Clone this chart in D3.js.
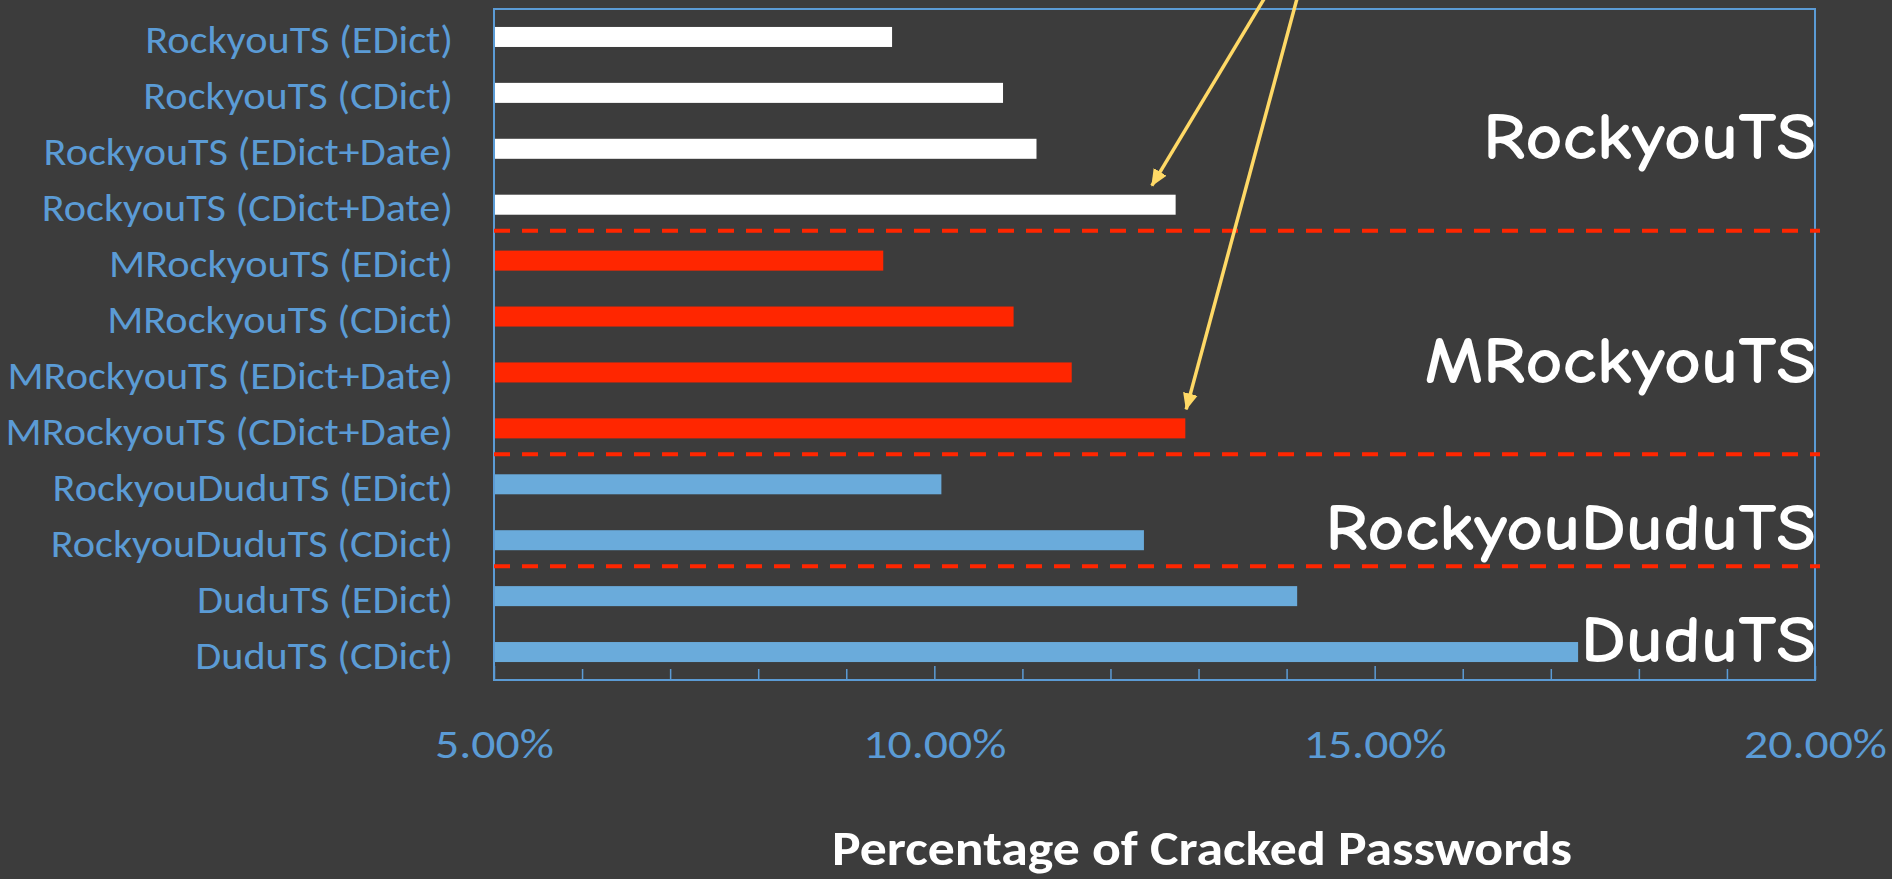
<!DOCTYPE html>
<html>
<head>
<meta charset="utf-8">
<script src="https://cdnjs.cloudflare.com/ajax/libs/d3/7.8.5/d3.min.js"></script>
<style>
  html, body { margin: 0; padding: 0; background: #3c3c3c; }
  svg { display: block; }
  .cat { font-family: Calibri, Carlito, Lato, sans-serif; font-size: 38.5px; fill: #5b9bd5; }
  .tick-lbl { font-family: Calibri, Carlito, Lato, sans-serif; font-size: 41.5px; fill: #5b9bd5; }
  .title { font-family: Calibri, Carlito, Lato, sans-serif; font-weight: 700; font-size: 48px; fill: #ffffff; }
  .grp { font-family: "Comic Sans MS", "Comic Neue", "DejaVu Sans", sans-serif; font-weight: 700; font-size: 67px; fill: #ffffff; }
</style>
</head>
<body>
<svg id="chart" width="1892" height="879"></svg>
<script>
// ---------------- data ----------------
const categories = [
  "RockyouTS (EDict)", "RockyouTS (CDict)", "RockyouTS (EDict+Date)", "RockyouTS (CDict+Date)",
  "MRockyouTS (EDict)", "MRockyouTS (CDict)", "MRockyouTS (EDict+Date)", "MRockyouTS (CDict+Date)",
  "RockyouDuduTS (EDict)", "RockyouDuduTS (CDict)",
  "DuduTS (EDict)", "DuduTS (CDict)"
];
const values = [9.52, 10.78, 11.16, 12.74, 9.42, 10.90, 11.56, 12.85, 10.08, 12.38, 14.12, 17.31];
const categoryGroups = [
  "RockyouTS", "RockyouTS", "RockyouTS", "RockyouTS",
  "MRockyouTS", "MRockyouTS", "MRockyouTS", "MRockyouTS",
  "RockyouDuduTS", "RockyouDuduTS",
  "DuduTS", "DuduTS"
];
const groupNames = ["RockyouTS", "MRockyouTS", "RockyouDuduTS", "DuduTS"];
const xDomain = [5, 20];
const majorTicks = [5, 10, 15, 20];
const minorTicks = [6, 7, 8, 9, 11, 12, 13, 14, 16, 17, 18, 19];
const xTitle = "Percentage of Cracked Passwords";
// annotation arrows: start value (above the chart) -> tip value near the target bar
const arrowFrom = [13.75, 14.12];
const arrowTo = [12.47, 12.86];
const arrowTarget = ["RockyouTS (CDict+Date)", "MRockyouTS (CDict+Date)"];

// ---------------- styles / layout ----------------
const W = 1892, H = 879;
const plot = { left: 494, top: 9, right: 1815, bottom: 680 };
const groupColor = d3.scaleOrdinal()
  .domain(groupNames)
  .range(["#ffffff", "#ff2600", "#6aabdb", "#6aabdb"]);
const frameColor = "#5b9bd5";
const sepColor = "#ff2600";
const arrowColor = "#ffd966";

const svg = d3.select("#chart");
svg.append("rect").attr("width", W).attr("height", H).attr("fill", "#3c3c3c");

const x = d3.scaleLinear().domain(xDomain).range([plot.left, plot.right]);
const y = d3.scaleBand().domain(categories).range([plot.top, plot.bottom])
  .paddingInner(0.642).paddingOuter(0.321);

// helper: horizontal condensing factor so the fallback font matches the original width
function condense(cls, sample, targetWidth) {
  const t = svg.append("text").attr("class", cls).text(sample);
  const w = t.node().getComputedTextLength();
  t.remove();
  return targetWidth / w;
}

// bars
svg.append("g").selectAll("rect")
  .data(categories)
  .join("rect")
  .attr("x", x(xDomain[0]))
  .attr("y", d => y(d))
  .attr("width", (d, i) => x(values[i]) - x(xDomain[0]))
  .attr("height", y.bandwidth())
  .attr("fill", (d, i) => groupColor(categoryGroups[i]));

// frame
svg.append("rect")
  .attr("x", plot.left).attr("y", plot.top)
  .attr("width", plot.right - plot.left).attr("height", plot.bottom - plot.top)
  .attr("fill", "none").attr("stroke", frameColor).attr("stroke-width", 2);

// minor ticks
const minorAxis = svg.append("g").attr("transform", `translate(0,${plot.bottom})`)
  .call(d3.axisBottom(x).tickValues(minorTicks).tickSize(-11).tickFormat(""));
minorAxis.select(".domain").remove();
minorAxis.selectAll("line").attr("stroke", frameColor).attr("stroke-width", 1.5);

// major ticks + labels
const kTick = condense("tick-lbl", "10.00%", 143);
const majorAxis = svg.append("g").attr("transform", `translate(0,${plot.bottom})`)
  .call(d3.axisBottom(x).tickValues(majorTicks).tickSize(-14).tickFormat(d => d.toFixed(2) + "%"));
majorAxis.select(".domain").remove();
majorAxis.selectAll("line").attr("stroke", frameColor).attr("stroke-width", 1.5);
majorAxis.selectAll("text")
  .attr("class", "tick-lbl")
  .attr("fill", null)
  .attr("y", 0).attr("dy", null)
  .attr("text-anchor", "middle")
  .attr("transform", `translate(0,78) scale(${kTick},1)`);
majorAxis.attr("font-size", null).attr("font-family", null);

// category labels (left axis)
const kCat = condense("cat", "RockyouTS (EDict)", 308);
const leftAxis = svg.append("g").attr("transform", `translate(${plot.left},0)`)
  .call(d3.axisLeft(y).tickSize(0).tickPadding(41));
leftAxis.select(".domain").remove();
leftAxis.attr("font-size", null).attr("font-family", null);
leftAxis.selectAll("text")
  .attr("class", "cat")
  .attr("fill", null)
  .attr("x", 0).attr("dy", null)
  .attr("text-anchor", "end")
  .attr("transform", `translate(-41,16.5) scale(${kCat},1)`);

// group separators (dashed red lines)
const sepYs = [];
for (let i = 1; i < categories.length; i++) {
  if (categoryGroups[i] !== categoryGroups[i - 1]) {
    sepYs.push(y(categories[i]) - y.step() * y.paddingInner() / 2 - 2);
  }
}
svg.append("g").selectAll("line")
  .data(sepYs)
  .join("line")
  .attr("x1", plot.left).attr("x2", plot.right + 5)
  .attr("y1", d => d).attr("y2", d => d)
  .attr("stroke", sepColor).attr("stroke-width", 4)
  .attr("stroke-dasharray", "16,12");

// group labels
const kGrp = condense("grp", "RockyouDuduTS", 491);
svg.append("g").selectAll("text")
  .data(groupNames)
  .join("text")
  .attr("class", "grp")
  .attr("text-anchor", "end")
  .attr("transform", g => {
    const idx = categories.filter((c, i) => categoryGroups[i] === g);
    const mid = d3.mean(idx, c => y(c) + y.bandwidth() / 2);
    return `translate(${plot.right + 1},${mid + 38}) scale(${kGrp},1)`;
  })
  .text(g => g);

// axis title
const kTitle = condense("title", xTitle, 740);
svg.append("text")
  .attr("class", "title")
  .attr("text-anchor", "middle")
  .attr("transform", `translate(1202,865) scale(${kTitle},1)`)
  .text(xTitle);

// annotation arrows
const defs = svg.append("defs");
defs.append("marker")
  .attr("id", "ah")
  .attr("viewBox", "0 -8 17 16")
  .attr("refX", 16).attr("refY", 0)
  .attr("markerWidth", 17).attr("markerHeight", 16)
  .attr("markerUnits", "userSpaceOnUse")
  .attr("orient", "auto")
  .append("path").attr("d", "M0,-7.5L17,0L0,7.5Z").attr("fill", arrowColor);

svg.append("g").selectAll("line")
  .data(arrowFrom)
  .join("line")
  .attr("x1", d => x(d)).attr("y1", -2)
  .attr("x2", (d, i) => x(arrowTo[i]))
  .attr("y2", (d, i) => y(arrowTarget[i]) - 9)
  .attr("stroke", arrowColor).attr("stroke-width", 3.5)
  .attr("marker-end", "url(#ah)");
</script>
</body>
</html>
